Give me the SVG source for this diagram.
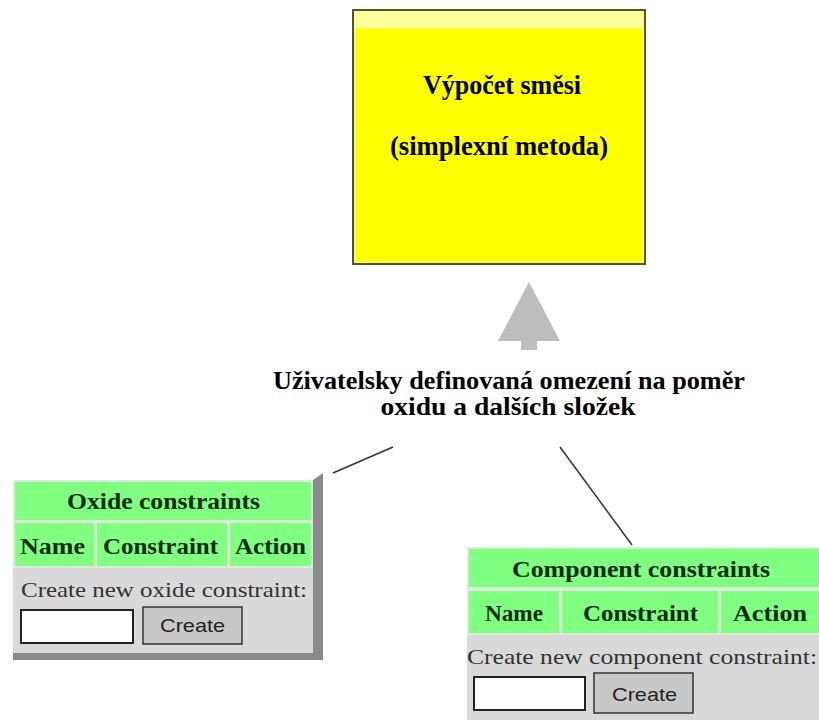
<svg xmlns="http://www.w3.org/2000/svg" width="819" height="720" viewBox="0 0 819 720">
<style>
.ttl{font-family:"Liberation Serif","Times New Roman",Times,serif;font-weight:bold;fill:#000}
.hd{font-family:"Liberation Serif","Times New Roman",Times,serif;font-weight:bold;fill:#0a2a0a;font-size:23px}
.txt{font-family:"Liberation Serif","Times New Roman",Times,serif;fill:#333;font-size:21px}
.btn{font-family:"Liberation Sans",Arial,sans-serif;fill:#222;font-size:19px}
.green{fill:#80ff80}
.cellb{fill:none;stroke:#d8ecd8;stroke-width:2}
.gray{fill:#d9d9d9}
.input{fill:#fff;stroke:#222;stroke-width:2}
.button{fill:#c8c8c8;stroke:#333;stroke-width:1.5}
.conn{stroke:#333;stroke-width:1.5;fill:none}
</style>
<rect width="819" height="720" fill="#fff"/>

<g id="conn">
<line class="conn" x1="333" y1="473" x2="393" y2="447"/>
<line class="conn" x1="560" y1="447" x2="632" y2="545"/>
<polygon points="529,282 560,341 537,341 537,350 521,350 521,341 498,341" fill="#bdbdbd"/>
</g>

<g id="calc">
<rect x="353" y="10" width="292" height="254" fill="#ffff00" stroke="#55552a" stroke-width="2"/>
<rect x="354" y="11" width="290" height="17" fill="#ffff99"/>
<rect x="355" y="28" width="288" height="234" fill="none" stroke="#ffffa0" stroke-width="1"/>
<text class="ttl" x="502" y="94" font-size="27" text-anchor="middle" textLength="158" lengthAdjust="spacingAndGlyphs">Výpočet směsi</text>
<text class="ttl" x="499" y="155" font-size="27" text-anchor="middle" textLength="218" lengthAdjust="spacingAndGlyphs">(simplexní metoda)</text>
</g>

<g id="label">
<text class="ttl" x="509" y="389" font-size="25" text-anchor="middle" textLength="472" lengthAdjust="spacingAndGlyphs">Uživatelsky definovaná omezení na poměr</text>
<text class="ttl" x="508" y="415" font-size="25" text-anchor="middle" textLength="255" lengthAdjust="spacingAndGlyphs">oxidu a dalších složek</text>
</g>

<g id="oxide">
<polygon points="313,480 323,473 323,660 13,660 13,653 313,653" fill="#8a8a8a"/>
<rect x="13" y="480" width="300" height="173" class="gray"/>
<rect x="13" y="480" width="300" height="87" class="green"/>
<rect x="14" y="481" width="298" height="40" class="cellb"/>
<rect x="14" y="522" width="81" height="45" class="cellb"/>
<rect x="96" y="522" width="132" height="45" class="cellb"/>
<rect x="229" y="522" width="83" height="45" class="cellb"/>
<text class="hd" x="67" y="509" textLength="193" lengthAdjust="spacingAndGlyphs">Oxide constraints</text>
<text class="hd" x="20" y="554" textLength="65" lengthAdjust="spacingAndGlyphs">Name</text>
<text class="hd" x="103" y="554" textLength="115" lengthAdjust="spacingAndGlyphs">Constraint</text>
<text class="hd" x="235" y="554" textLength="71" lengthAdjust="spacingAndGlyphs">Action</text>
<text class="txt" x="21" y="597" textLength="286" lengthAdjust="spacingAndGlyphs">Create new oxide constraint:</text>
<rect x="21" y="610" width="112" height="33" class="input"/>
<rect x="143" y="607" width="99" height="37" class="button"/>
<text class="btn" x="160" y="632" textLength="65" lengthAdjust="spacingAndGlyphs">Create</text>
</g>

<g id="component">
<rect x="467" y="547" width="352" height="173" class="gray"/>
<rect x="467" y="547" width="352" height="88" class="green"/>
<rect x="468" y="548" width="352" height="40" class="cellb"/>
<rect x="468" y="590" width="92" height="44" class="cellb"/>
<rect x="561" y="590" width="158" height="44" class="cellb"/>
<rect x="720" y="590" width="100" height="44" class="cellb"/>
<text class="hd" x="512" y="577" textLength="258" lengthAdjust="spacingAndGlyphs">Component constraints</text>
<text class="hd" x="485" y="621" textLength="58" lengthAdjust="spacingAndGlyphs">Name</text>
<text class="hd" x="583" y="621" textLength="115" lengthAdjust="spacingAndGlyphs">Constraint</text>
<text class="hd" x="733" y="621" textLength="74" lengthAdjust="spacingAndGlyphs">Action</text>
<text class="txt" x="467" y="664" textLength="350" lengthAdjust="spacingAndGlyphs">Create new component constraint:</text>
<rect x="474" y="677" width="111" height="33" class="input"/>
<rect x="594" y="673" width="99" height="40" class="button"/>
<text class="btn" x="612" y="701" textLength="65" lengthAdjust="spacingAndGlyphs">Create</text>
</g>
</svg>
